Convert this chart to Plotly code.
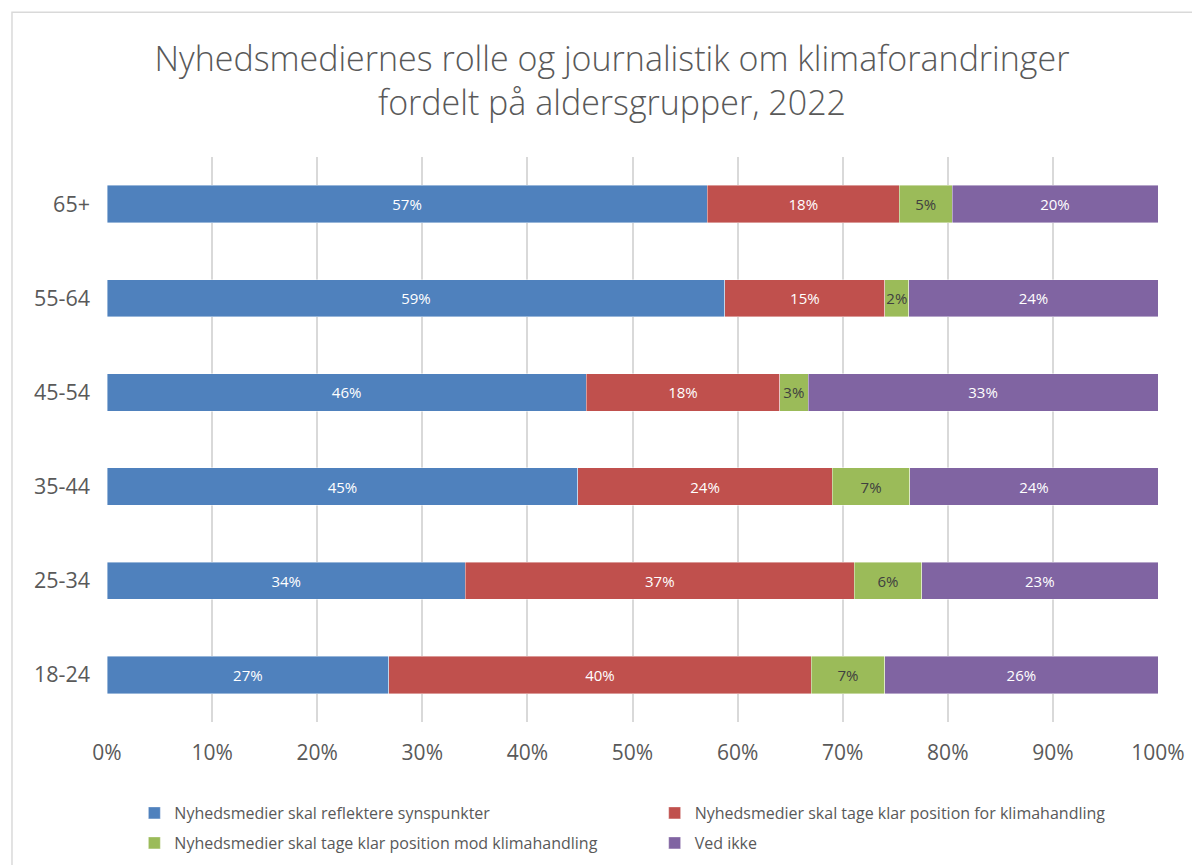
import plotly.graph_objects as go

# age groups, bottom to top as drawn
ages = ['18-24', '25-34', '35-44', '45-54', '55-64', '65+']

# shares in percent
reflektere = [26.8, 34.1, 44.8, 45.6, 58.8, 57.1]
for_klima = [40.2, 37.0, 24.2, 18.4, 15.2, 18.3]
mod_klima = [7.0, 6.4, 7.4, 2.7, 2.3, 5.0]
ved_ikke = [26.0, 22.5, 23.6, 33.3, 23.7, 19.6]

names = ['Nyhedsmedier skal reflektere synspunkter',
         'Nyhedsmedier skal tage klar position for klimahandling',
         'Nyhedsmedier skal tage klar position mod klimahandling',
         'Ved ikke']
colors = ['#4F81BD', '#C0504D', '#9BBB59', '#8064A2']
text_colors = ['white', 'white', '#404040', 'white']
legends = ['legend', 'legend2', 'legend3', 'legend4']

FONT = 'Open Sans, sans-serif'
GREY = '#595959'

fig = go.Figure()
for vals, name, col, tc, lg in zip([reflektere, for_klima, mod_klima, ved_ikke],
                                   names, colors, text_colors, legends):
    fig.add_trace(go.Bar(
        y=ages, x=vals, name=name, orientation='h', legend=lg, showlegend=True,
        marker=dict(color=col, line=dict(color='rgba(255,255,255,0.6)', width=0.7)),
        texttemplate='%{x:.0f}%', textposition='inside', insidetextanchor='middle',
        textangle=0, insidetextfont=dict(color=tc, size=15, family=FONT),
        hoverinfo='skip'))


def leg(x, y):
    # container-referenced so the legends do not push the bottom margin
    return dict(orientation='h', font=dict(size=16, color=GREY, family=FONT),
                x=x, y=y, xref='container', yref='container',
                xanchor='left', yanchor='middle', bgcolor='rgba(0,0,0,0)')


# the page body has an 8px margin, so the figure is 8px smaller and margins shifted
fig.update_layout(
    width=1192, height=857,
    showlegend=True,
    barmode='stack', bargap=0.605,
    paper_bgcolor='white', plot_bgcolor='white',
    margin=dict(l=99, r=42, t=149, b=143),
    font=dict(family=FONT, color=GREY),
    uniformtext=dict(mode='show', minsize=15),
    title=dict(text='Nyhedsmediernes rolle og journalistik om klimaforandringer<br>fordelt på aldersgrupper, 2022',
               x=0.5067, xref='container', xanchor='center', y=0.927, yref='container', yanchor='middle',
               font=dict(size=34, color=GREY, family=FONT, weight=300)),
    xaxis=dict(range=[0, 100], dtick=10, ticksuffix='%', showgrid=True, gridcolor='#D9D9D9',
               gridwidth=1.5, zeroline=False, showline=False, ticks='', ticklabelstandoff=16,
               tickfont=dict(size=21, color=GREY, family=FONT), fixedrange=True),
    yaxis=dict(categoryorder='array', categoryarray=ages, showgrid=False, showline=False,
               ticks='', ticklabelstandoff=16, tickfont=dict(size=21.5, color=GREY, family=FONT),
               fixedrange=True),
    legend=leg(0.106, 0.0607),
    legend2=leg(0.5425, 0.0607),
    legend3=leg(0.106, 0.0257),
    legend4=leg(0.5425, 0.0257),
    shapes=[dict(type='rect', xref='paper', yref='paper', x0=-0.0904, x1=1.2,
                 y0=-0.5, y1=1.256, line=dict(color='#D9D9D9', width=1.5),
                 fillcolor='rgba(0,0,0,0)', layer='below')],
)

fig.write_html('out.html')
